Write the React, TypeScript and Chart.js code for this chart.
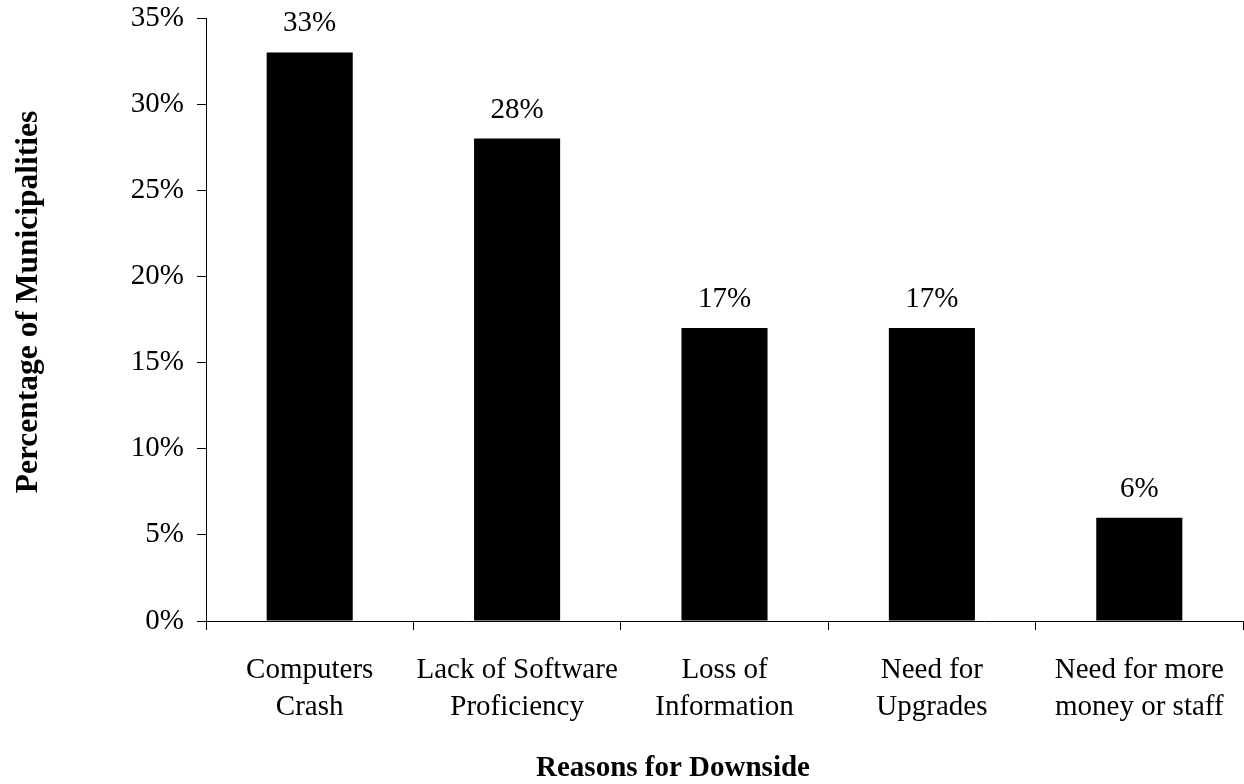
import React, { useEffect, useRef } from "react";
import { Chart, registerables } from "chart.js";

Chart.register(...registerables);

const categories: string[][] = [
  ["Computers", "Crash"],
  ["Lack of Software", "Proficiency"],
  ["Loss of", "Information"],
  ["Need for", "Upgrades"],
  ["Need for more", "money or staff"],
];
const values: number[] = [33, 28, 17, 17, 6];
const yTickValues: number[] = [0, 5, 10, 15, 20, 25, 30, 35];
const xTitle = "Reasons for Downside";
const yTitle = "Percentage of Municipalities";

const FONT = "'Liberation Serif', 'Times New Roman', serif";

const labelPlugin = {
  id: "valueLabels",
  afterDatasetsDraw(chart: any) {
    const ctx = chart.ctx;
    const meta = chart.getDatasetMeta(0);
    ctx.save();
    ctx.fillStyle = "#000";
    ctx.font = `29px ${FONT}`;
    ctx.textAlign = "center";
    ctx.textBaseline = "alphabetic";
    meta.data.forEach((bar: any, i: number) => {
      ctx.fillText(`${values[i]}%`, bar.x, bar.y - 21);
    });
    ctx.restore();
  },
};

const titlePlugin = {
  id: "axisTitles",
  afterDraw(chart: any) {
    const ctx = chart.ctx;
    ctx.save();
    ctx.fillStyle = "#000";
    ctx.textAlign = "center";
    ctx.textBaseline = "alphabetic";
    ctx.font = `bold 29px ${FONT}`;
    ctx.fillText(xTitle, 673, 776);
    ctx.font = `bold 31.5px ${FONT}`;
    ctx.translate(37, 302);
    ctx.rotate(-Math.PI / 2);
    ctx.fillText(yTitle, 0, 0);
    ctx.restore();
  },
};

export default function App() {
  const ref = useRef<HTMLCanvasElement | null>(null);

  useEffect(() => {
    if (!ref.current) return;
    Chart.defaults.color = "#000";
    const chart = new Chart(ref.current, {
      type: "bar",
      data: {
        labels: categories,
        datasets: [
          {
            data: values,
            backgroundColor: "#000",
            borderWidth: 0,
            categoryPercentage: 1,
            barPercentage: 0.415,
          },
        ],
      },
      options: {
        animation: false,
        responsive: false,
        devicePixelRatio: 1,
        layout: { padding: { top: 18, right: 1, left: 0, bottom: 0 } },
        plugins: {
          legend: { display: false },
          tooltip: { enabled: false },
        },
        scales: {
          x: {
            offset: true,
            grid: {
              offset: true,
              drawOnChartArea: false,
              drawTicks: true,
              tickLength: 9,
              color: "#000",
            },
            border: { color: "#000", width: 1 },
            ticks: {
              color: "#000",
              padding: 22,
              maxRotation: 0,
              autoSkip: false,
              font: { family: FONT, size: 29, lineHeight: 37 / 29 },
            },
            afterFit(scale: any) {
              scale.height = 163;
              scale.paddingLeft = 0;
              scale.paddingRight = 0;
              scale.paddingTop = 0;
              scale.paddingBottom = 0;
            },
          },
          y: {
            min: 0,
            max: 35,
            afterBuildTicks(scale: any) {
              scale.ticks = yTickValues.map((v) => ({ value: v }));
            },
            grid: {
              drawOnChartArea: false,
              drawTicks: true,
              tickLength: 9,
              color: "#000",
            },
            border: { color: "#000", width: 1 },
            ticks: {
              color: "#000",
              padding: 13,
              font: { family: FONT, size: 29 },
              callback: (v: any) => `${v}%`,
            },
            afterFit(scale: any) {
              scale.width = 206;
              scale.paddingLeft = 0;
              scale.paddingRight = 0;
              scale.paddingTop = 0;
              scale.paddingBottom = 0;
            },
          },
        },
      },
      plugins: [labelPlugin, titlePlugin],
    });
    return () => chart.destroy();
  }, []);

  return (
    <div style={{ position: "absolute", left: 0, top: 0, width: 1244, height: 784, background: "#fff" }}>
      <canvas ref={ref} width={1244} height={784} />
    </div>
  );
}
